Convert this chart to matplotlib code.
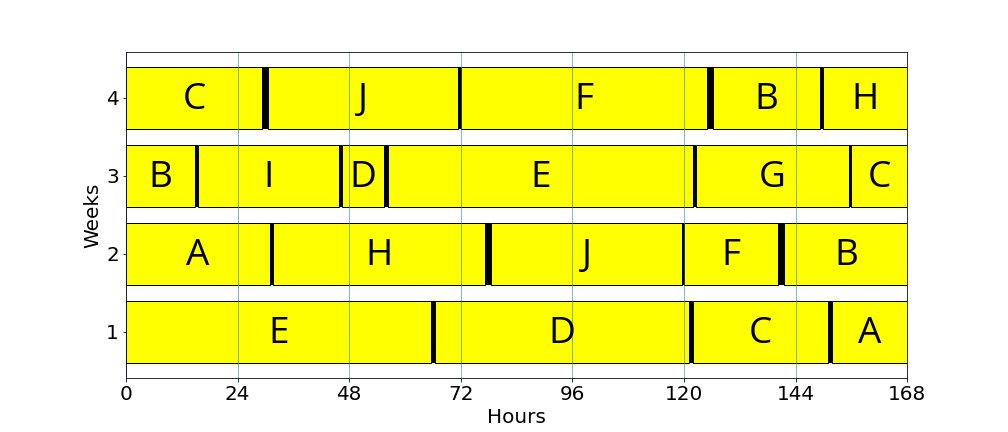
import matplotlib
matplotlib.use('Agg')
import matplotlib.pyplot as plt

# Datos: trabajos por semana (letra, inicio, fin) en horas
semanas = [1, 2, 3, 4]
trabajos = [
    ['E', 'D', 'C', 'A'],
    ['A', 'H', 'J', 'F', 'B'],
    ['B', 'I', 'D', 'E', 'G', 'C'],
    ['C', 'J', 'F', 'B', 'H'],
]
inicios = [
    [0, 66.5, 121.9, 151.8],
    [0, 31.6, 78.5, 120.0, 141.6],
    [0, 15.4, 46.4, 56.3, 122.5, 155.9],
    [0, 30.5, 72.1, 126.3, 149.9],
]
finales = [
    [65.6, 121.1, 150.9, 168],
    [31.0, 77.2, 119.6, 140.3, 168],
    [14.8, 45.8, 55.5, 121.9, 155.4, 168],
    [29.2, 71.5, 125.0, 149.3, 168],
]
ticks_x = [0, 24, 48, 72, 96, 120, 144, 168]

fig, ax = plt.subplots(figsize=(14, 6), dpi=72)
fig.subplots_adjust(bottom=0.125)

for sem, letras, ini, fin in zip(semanas, trabajos, inicios, finales):
    for k, (letra, a, b) in enumerate(zip(letras, ini, fin)):
        ax.barh(sem, b - a, left=a, height=0.8, color='yellow',
                edgecolor='black', linewidth=1)
        ax.text((a + b) / 2, sem - 0.03, letra, ha='center', va='center',
                fontsize=37, family='Open Sans')
        # cambio de trabajo (negro)
        if k + 1 < len(ini):
            ax.barh(sem, ini[k + 1] - b, left=b, height=0.8,
                    color='black', linewidth=0)

ax.set_xlim(0, 168)
ax.set_xticks(ticks_x)
ax.set_yticks(semanas)
ax.tick_params(labelsize=20)
ax.grid(axis='x', color='#1f77b4', alpha=0.6, linewidth=0.9)

ax.set_xlabel('Hours', fontsize=20)
ax.set_ylabel('Weeks', fontsize=20)

plt.savefig('out.png')
